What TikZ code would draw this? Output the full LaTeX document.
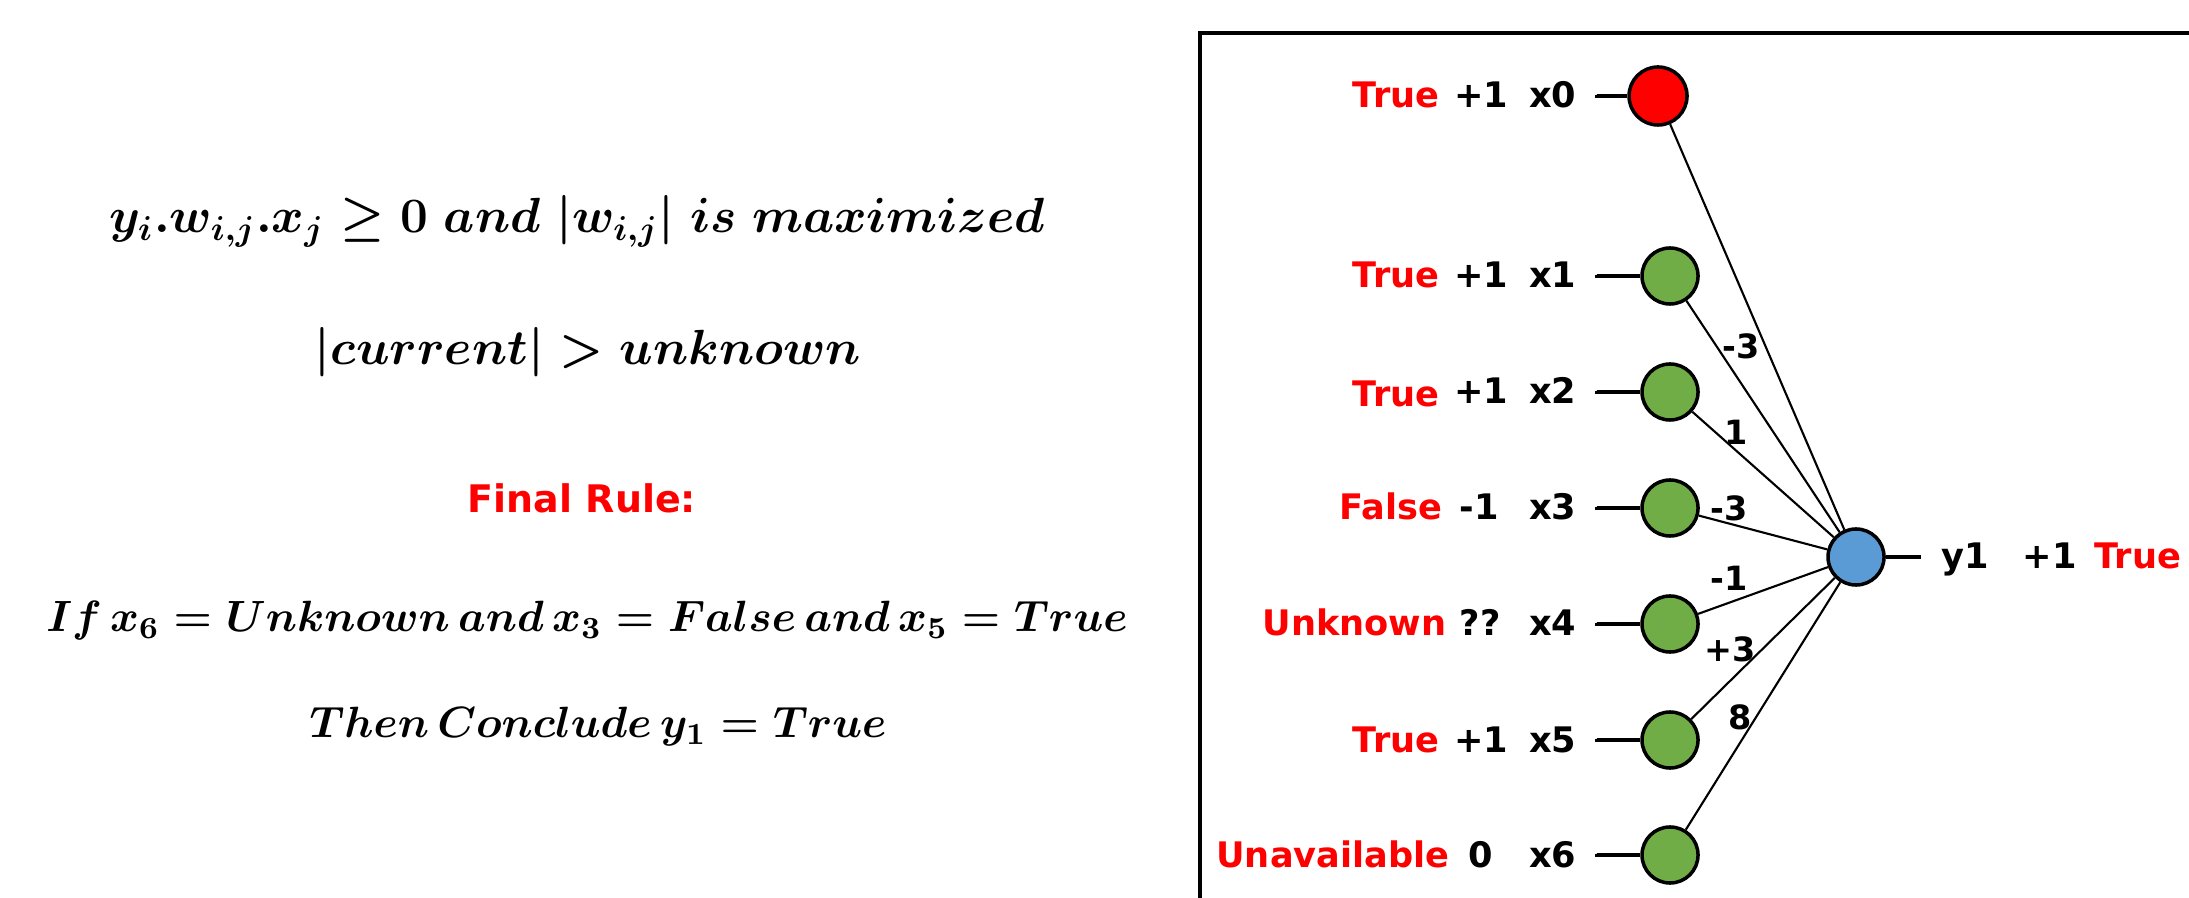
\documentclass[tikz,border=0pt]{standalone}
\usepackage{fix-cm}
\usepackage{amsmath,amssymb}
\usepackage{fontspec}
\setsansfont{DejaVu Sans}
\usepackage{tikz}
\usetikzlibrary{calc}

\definecolor{unitgreen}{RGB}{112,173,71}
\definecolor{unitblue}{RGB}{91,155,213}

\tikzset{
  rulefont/.style={font=\fontsize{14.05}{17}\selectfont\boldmath},
  rulesmall/.style={font=\fontsize{12.45}{15}\selectfont\boldmath},
  unit/.style={circle,draw=black,line width=1pt,minimum size=0.56cm,inner sep=0pt,fill=unitgreen},
  lab/.style={font=\sffamily\bfseries,inner sep=0pt},
  truth/.style={lab,text=red},
  weight/.style={font=\sffamily\bfseries\fontsize{9.5}{11}\selectfont,inner sep=0pt},
  link/.style={line width=0.6pt},
  stub/.style={line width=0.9pt}
}

\begin{document}
\begin{tikzpicture}[x=0.01cm,y=-0.01cm]
%\draw[help lines,step=100] (0,0) grid (2189,898);
\useasboundingbox (0,0) rectangle (2189,898);

% the rule on the left
\node[anchor=base,rulefont] (f1) at (577,233) {$y_i.w_{i,j}.x_j \geq 0\;and\;\lvert w_{i,j}\rvert\;is\;maximized$};
\node[anchor=base,rulefont] (f2) at (588,365) {$\lvert current\rvert > unknown$};
\node[anchor=base,text=red,font=\sffamily\bfseries\fontsize{10.8}{13}\selectfont] (fr) at (582,513) {Final Rule:};
\node[anchor=base,rulesmall] (f3) at (587,632) {$If\,x_6 = Unknown\,and\,x_3 = False\,and\,x_5 = True$};
\node[anchor=base,rulesmall] (f4) at (598,738) {$Then\,Conclude\,y_1 = True$};

% frame
\draw[line width=1pt] (2200,33) -- (1200,33) -- (1200,910);

% units
\node[unit,fill=red,minimum size=0.58cm] (x0) at (1658,96) {};
\node[unit] (x1) at (1670,276) {};
\node[unit] (x2) at (1670,392) {};
\node[unit] (x3) at (1670,508) {};
\node[unit] (x4) at (1670,624) {};
\node[unit] (x5) at (1670,740) {};
\node[unit] (x6) at (1670,855) {};
\node[unit,fill=unitblue] (y1) at (1856,557) {};

% input labels
\node[lab,anchor=base east] (lx0) at (1577,108) {x0};
\node[lab,anchor=base] (vx0) at (1481,108) {+1};
\node[truth,anchor=base east] (tx0) at (1440,108) {True};
\node[lab,anchor=base east] (lx1) at (1577,288) {x1};
\node[lab,anchor=base] (vx1) at (1481,288) {+1};
\node[truth,anchor=base east] (tx1) at (1440,288) {True};
\node[lab,anchor=base east] (lx2) at (1577,404) {x2};
\node[lab,anchor=base] (vx2) at (1481,404) {+1};
\node[truth,anchor=base east] (tx2) at (1440,407) {True};
\node[lab,anchor=base east] (lx3) at (1577,520) {x3};
\node[lab,anchor=base] (vx3) at (1479,520) {-1};
\node[truth,anchor=base east] (tx3) at (1443,520) {False};
\node[lab,anchor=base east] (lx4) at (1577,636) {x4};
\node[lab,anchor=base] (vx4) at (1480,636) {??};
\node[truth,anchor=base east] (tx4) at (1447,636) {Unknown};
\node[lab,anchor=base east] (lx5) at (1577,752) {x5};
\node[lab,anchor=base] (vx5) at (1481,752) {+1};
\node[truth,anchor=base east] (tx5) at (1440,752) {True};
\node[lab,anchor=base east] (lx6) at (1577,867) {x6};
\node[lab,anchor=base] (vx6) at (1481,867) {0};
\node[truth,anchor=base east] (tx6) at (1450,867) {Unavailable};

% output labels
\node[lab,anchor=base west] (ly1) at (1941,569) {y1};
\node[lab,anchor=base west] (vy1) at (2022,569) {+1};
\node[truth,anchor=base west] (ty1) at (2094,569) {True};

% stubs
\draw[stub] ($(lx0.east)+(20,0)$) |- (x0);
\draw[stub] ($(lx1.east)+(20,0)$) |- (x1);
\draw[stub] ($(lx2.east)+(20,0)$) |- (x2);
\draw[stub] ($(lx3.east)+(20,0)$) |- (x3);
\draw[stub] ($(lx4.east)+(20,0)$) |- (x4);
\draw[stub] ($(lx5.east)+(20,0)$) |- (x5);
\draw[stub] ($(lx6.east)+(20,0)$) |- (x6);
\coordinate (out) at (1921,557);
\draw[stub] (y1) -- (out);

% links
\draw[link] (x0) -- (y1);
\draw[link] (x1) -- (y1);
\draw[link] (x2) -- (y1);
\draw[link] (x3) -- (y1);
\draw[link] (x4) -- (y1);
\draw[link] (x5) -- (y1);
\draw[link] (x6) -- (y1);

% weights
\node[weight] (w1) at (1741,346) {-3};
\node[weight] (w2) at (1736,432) {1};
\node[weight] (w3) at (1729,508) {-3};
\node[weight] (w4) at (1729,578) {-1};
\node[weight] (w5) at (1730,649) {+3};
\node[weight] (w6) at (1740,717) {8};

\end{tikzpicture}
\end{document}
